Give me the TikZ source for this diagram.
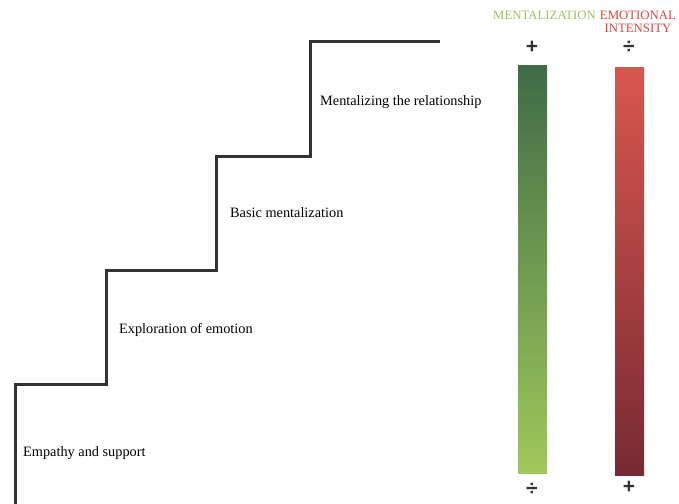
\documentclass[tikz,border=0pt]{standalone}
\usepackage{fontspec}
\setmainfont{Liberation Serif}
\newfontfamily\signfont{Liberation Sans}
\definecolor{stair}{HTML}{333333}
\definecolor{gtop}{HTML}{3F6C47}
\definecolor{gbot}{HTML}{A0C85A}
\definecolor{rtop}{HTML}{D9574E}
\definecolor{rbot}{HTML}{772A33}
\definecolor{glabel}{HTML}{9CC45E}
\definecolor{rlabel}{HTML}{D9463E}
\begin{document}
\begin{tikzpicture}[x=1pt,y=-1pt,
  steplabel/.style={anchor=west,inner sep=0pt,font=\fontsize{14.3}{16}\selectfont},
  caplabel/.style={inner sep=0pt,font=\fontsize{12.8}{13.5}\selectfont,align=center},
  sign/.style={inner sep=0pt,font=\signfont\bfseries\fontsize{21}{22}\selectfont,text=stair}]
\useasboundingbox (0,0) rectangle (679,503);
\draw[stair,line width=3pt,line join=miter]
  (15,504) -- (15,384) -- (106,384) -- (106,270) -- (216,270) -- (216,156)
  -- (310,156) -- (310,42) -- (440,42);
\node[steplabel] (l4) at (320,102.5) {Mentalizing the relationship};
\node[steplabel] (l3) at (230,212.5) {Basic mentalization};
\node[steplabel] (l2) at (119,329.5) {Exploration of emotion};
\node[steplabel] (l1) at (23,453.5) {Empathy and support};
\shade[top color=gtop,bottom color=gbot] (518,65) rectangle (547,473);
\shade[top color=rtop,bottom color=rbot] (615,67) rectangle (644,475);
\node[caplabel,text=glabel] (mlab) at (544.5,15) {MENTALIZATION};
\node[caplabel,text=rlabel] (elab) at (638,22) {EMOTIONAL\\INTENSITY};
\node[sign] (gp) at (532,47) {+};
\node[sign] (rd) at (629,47) {÷};
\node[sign] (gd) at (532,489) {÷};
\node[sign] (rp) at (629,487) {+};
\end{tikzpicture}
\end{document}
